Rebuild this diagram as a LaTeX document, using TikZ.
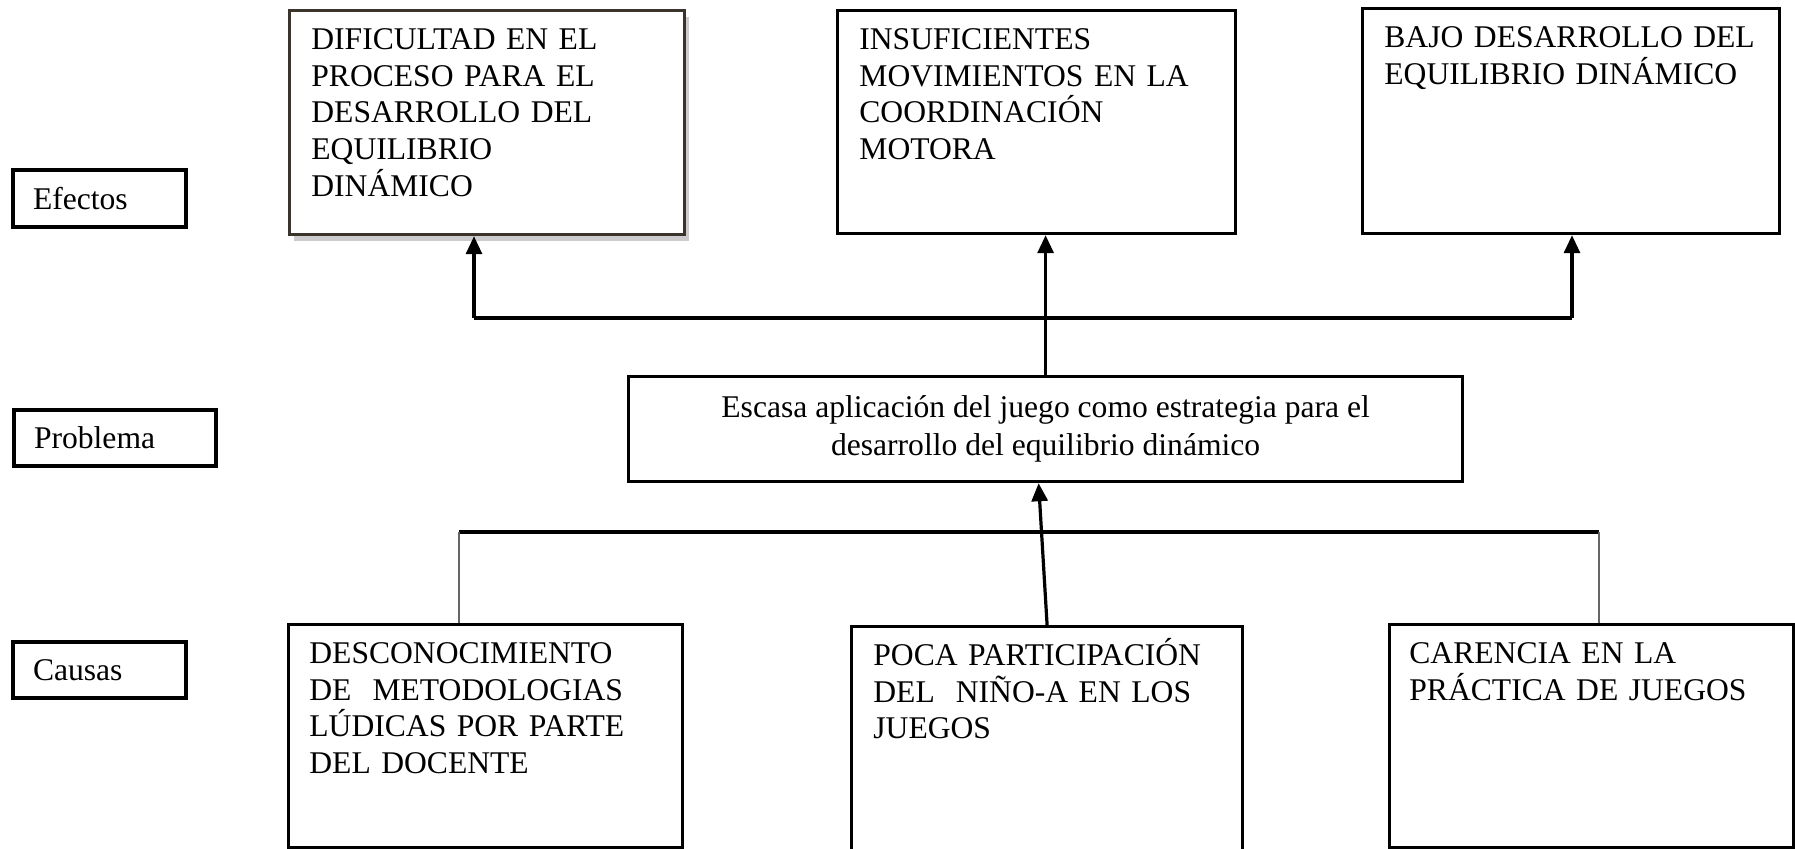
\documentclass[tikz,border=0pt]{standalone}
\usepackage{fontspec}
\setmainfont{Liberation Serif}
\usetikzlibrary{arrows.meta,shadows}

\newcommand\boxfont{\fontsize{15.8}{18.3}\selectfont}
\definecolor{shadowbrown}{RGB}{59,52,44}

\tikzset{
  lbl/.style={draw,line width=2pt,anchor=north west,align=left,inner xsep=10pt,inner ysep=0pt,font=\boxfont},
  box/.style={draw,line width=1.6pt,anchor=north west,inner sep=0pt},
  boxtext/.style={anchor=base west,align=left,inner sep=0pt,text width=190pt,font=\boxfont},
  link/.style={line width=1.6pt,-{Triangle[length=9pt,width=8pt]}},
  bar/.style={line width=1.6pt},
  stub/.style={gray!80!black,line width=0.7pt}
}

\begin{document}
\begin{tikzpicture}[x=0.5pt,y=-0.5pt]
\useasboundingbox (0,0) rectangle (1795,848);

% labels on the left
\node[lbl,text width=66.5pt,minimum height=28.5pt] (efectos) at (11,168) {Efectos};
\node[lbl,text width=81pt,minimum height=28pt] (problema) at (12,408) {Problema};
\node[lbl,text width=66.5pt,minimum height=28pt] (causas) at (11,640) {Causas};

% effects
\node[box,draw=shadowbrown,fill=white,minimum width=197.5pt,minimum height=112pt,
      drop shadow={shadow xshift=2pt,shadow yshift=-3pt,opacity=0.4}] (ef1) at (288,9) {};
\node[box,minimum width=199pt,minimum height=111.5pt] (ef2) at (836,9) {};
\node[box,minimum width=208.5pt,minimum height=112.5pt] (ef3) at (1361,7) {};

\node[boxtext] (ef1t) at ([shift={(11.5pt,-20.3pt)}]ef1.north west)
  {DIFICULTAD EN EL\\PROCESO PARA EL\\DESARROLLO DEL\\EQUILIBRIO\\DINÁMICO};
\node[boxtext] (ef2t) at ([shift={(11.5pt,-20.3pt)}]ef2.north west)
  {INSUFICIENTES\\MOVIMIENTOS EN LA\\COORDINACIÓN\\MOTORA};
\node[boxtext] (ef3t) at ([shift={(11.5pt,-20.3pt)}]ef3.north west)
  {BAJO DESARROLLO DEL\\EQUILIBRIO DINÁMICO};

% problem
\node[box,minimum width=417pt,minimum height=52.5pt,align=center,
      font=\fontsize{15.8}{19}\selectfont] (prob) at (627,375)
  {Escasa aplicación del juego como estrategia para el\\desarrollo del equilibrio dinámico};

% causes
\node[box,minimum width=197pt,minimum height=111.5pt] (ca1) at (287,623) {};
\node[box,minimum width=195.5pt,minimum height=122.5pt] (ca2) at (850,625) {};
\node[box,minimum width=202pt,minimum height=111.5pt] (ca3) at (1388,623) {};

\node[boxtext] (ca1t) at ([shift={(11pt,-20.3pt)}]ca1.north west)
  {DESCONOCIMIENTO\\DE~ METODOLOGIAS\\LÚDICAS POR PARTE\\DEL DOCENTE};
\node[boxtext] (ca2t) at ([shift={(11.5pt,-20.3pt)}]ca2.north west)
  {POCA PARTICIPACIÓN\\DEL~ NIÑO-A EN LOS\\JUEGOS};
\node[boxtext] (ca3t) at ([shift={(10.5pt,-20.3pt)}]ca3.north west)
  {CARENCIA EN LA\\PRÁCTICA DE JUEGOS};

% problem -> effects
\coordinate (eL) at (474,318);
\coordinate (eR) at (1572,318);
\draw[bar] (eL) -- (eR);
\draw[link] (eL) -- (eL |- ef1.south);
\draw[link] (prob.north) -- (prob.north |- ef2.south);
\draw[link] (eR) -- (eR |- ef3.south);

% causes -> problem
\coordinate (cL) at (459,532);
\coordinate (cR) at (1599,532);
\draw[bar] (cL) -- (cR);
\draw[stub] (cL) -- (cL |- ca1.north);
\draw[stub] (cR) -- (cR |- ca3.north);
\draw[link] (ca2.north) -- ([xshift=-3.5pt]prob.south);

\end{tikzpicture}
\end{document}
